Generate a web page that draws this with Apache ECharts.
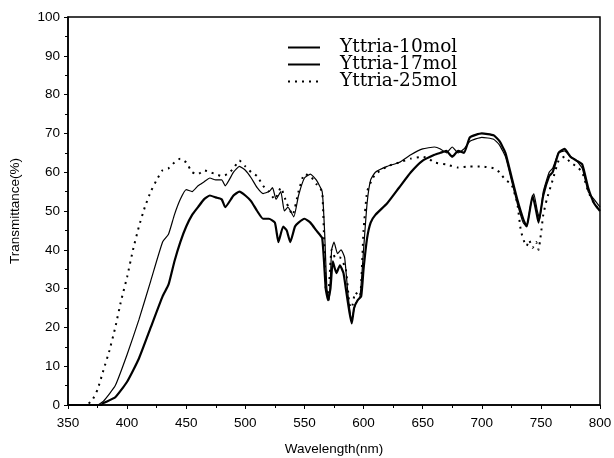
<!DOCTYPE html>
<html>
<head>
<meta charset="utf-8">
<script src="https://cdn.jsdelivr.net/npm/echarts@6/dist/echarts.min.js"></script>
<style>
  html, body { margin: 0; padding: 0; background: #fff; }
  #chart { width: 614px; height: 458px; }
</style>
</head>
<body>
<div id="chart"></div>
<script>
// wavelength (nm) / transmittance (%)
const wl10 = [350, 378, 380, 390, 400, 410, 420, 430, 435, 440, 445, 450, 455, 460, 465, 470, 475, 480, 483, 490, 495, 500, 505, 510, 515, 520, 525, 528, 532, 535, 538, 542, 545, 550, 555, 560, 565, 568, 570, 572, 574, 577, 580, 583, 585, 588, 590, 592, 595, 598, 600, 603, 606, 610, 620, 630, 640, 650, 660, 665, 670, 675, 680, 685, 690, 700, 710, 715, 720, 725, 730, 735, 738, 740, 743, 746, 748, 752, 757, 760, 765, 770, 775, 780, 785, 790, 795, 800];
const t10 = [0, 0, 0.5, 2, 6, 12, 20, 28, 31, 37, 42, 46, 49, 51, 53, 54, 53.5, 53, 51, 54, 55, 54, 52.5, 50, 48, 48, 47, 42, 46, 45, 42, 46, 47, 48, 47, 45, 43, 30, 27, 30, 37, 34, 36, 34, 30, 24, 21, 25, 27, 28, 35, 43, 47, 49, 52, 56, 60, 63, 64.5, 65, 65.5, 64, 65.5, 65, 69, 70, 69.5, 68, 65, 59, 53, 48, 46, 49, 54, 50, 47, 54, 59, 60, 65, 66, 64, 63, 62, 56, 52, 50];

const wl17 = [350, 375, 380, 390, 400, 410, 420, 430, 435, 440, 445, 450, 455, 460, 465, 470, 475, 480, 483, 490, 495, 500, 505, 510, 515, 520, 523, 526, 530, 533, 536, 541, 545, 550, 555, 560, 565, 567, 569, 571, 573, 575, 578, 581, 584, 587, 590, 593, 597, 600, 603, 606, 610, 620, 630, 640, 650, 660, 665, 670, 675, 680, 685, 690, 700, 710, 715, 720, 725, 730, 735, 738, 741, 744, 747, 749, 752, 757, 760, 765, 770, 775, 780, 785, 790, 795, 800];
const t17 = [0, 0, 1, 5, 13, 22, 32, 42, 44, 49, 53, 55.5, 55, 56.5, 57.5, 58.5, 58, 58, 56.5, 60, 61.5, 60.5, 58.5, 56, 54.5, 55, 56, 53, 55, 50, 51, 48.5, 54, 58.5, 59.5, 58, 55, 45, 30, 27, 40, 42, 39, 40, 38, 28, 22, 26, 28, 40, 52, 58, 60, 61.5, 62.5, 64.5, 66, 66.5, 66, 65, 66.5, 65, 66, 68, 69, 68.5, 67, 64, 58, 52, 47, 46, 51, 54.5, 50, 48, 55, 60, 61, 65, 65.5, 64, 63, 61, 55, 53, 51];

const wl25 = [350, 365, 370, 375, 380, 385, 390, 395, 400, 405, 410, 415, 420, 425, 430, 435, 440, 445, 450, 455, 460, 465, 470, 475, 480, 485, 490, 495, 500, 505, 510, 515, 520, 525, 530, 535, 540, 545, 550, 555, 560, 565, 568, 570, 573, 576, 580, 585, 588, 590, 593, 597, 600, 603, 607, 610, 620, 630, 640, 650, 655, 660, 670, 680, 690, 700, 710, 715, 720, 725, 730, 733, 736, 738, 740, 743, 746, 748, 750, 752, 755, 760, 765, 770, 775, 780, 785, 790, 795, 800];
const t25 = [0, 0, 1, 4, 9, 14, 20, 27, 33, 40, 46, 51, 55, 58, 60.5, 61, 62.5, 63.5, 62.5, 60, 59.5, 60.5, 60, 59.5, 59, 59.5, 61, 63, 61.5, 60, 59, 56.5, 55, 53, 56, 52, 49, 55, 59.5, 59, 57, 55, 30, 28, 40, 38, 38, 35, 26, 25, 29, 28, 45, 55, 58, 59.5, 61.5, 62.5, 63.5, 64, 63.5, 62.5, 62, 61.2, 61.5, 61.5, 61, 60, 58, 57, 52, 45, 42, 41, 42.5, 40.5, 42, 40, 44, 49, 53, 58, 63, 64, 62.5, 61.5, 60, 55, 52, 50];

const xTicks = { min: 350, max: 800, step: 50 };
const yTicks = { min: 0, max: 100, step: 10 };

function pairs(xs, ys) {
  return xs.map((x, i) => [x, ys[i]]);
}

const chart = echarts.init(document.getElementById('chart'));

const axisFont = { color: '#000', fontSize: 13.5, fontFamily: 'Arial, "Liberation Sans", sans-serif' };

chart.setOption({
  animation: false,
  backgroundColor: '#fff',
  grid: {
    left: 68, right: 14, top: 17, bottom: 53,
    outerBoundsMode: 'none',
    show: true, borderColor: '#000', borderWidth: 1.5
  },
  legend: {
    orient: 'vertical',
    left: 282, top: 33,
    padding: 5,
    itemWidth: 32, itemHeight: 14, itemGap: -2,
    itemStyle: { opacity: 0 },
    textStyle: {
      color: '#000', fontSize: 18.5, lineHeight: 17,
      fontFamily: '"DejaVu Serif", "Liberation Serif", serif',
      padding: [0, 0, 0, 15]
    },
    data: ['Yttria-10mol', 'Yttria-17mol', 'Yttria-25mol']
  },
  xAxis: {
    type: 'value',
    min: xTicks.min, max: xTicks.max, interval: xTicks.step,
    name: 'Wavelength(nm)', nameLocation: 'middle', nameGap: 37,
    nameTextStyle: axisFont,
    axisLine: { lineStyle: { color: '#000', width: 1.5 } },
    axisTick: { length: 4, lineStyle: { color: '#000' } },
    minorTick: { show: true, splitNumber: 2, length: 3, lineStyle: { color: '#000' } },
    axisLabel: Object.assign({ margin: 11 }, axisFont),
    splitLine: { show: false }
  },
  yAxis: {
    type: 'value',
    min: yTicks.min, max: yTicks.max, interval: yTicks.step,
    name: 'Transmittance(%)', nameLocation: 'middle', nameGap: 46, nameRotate: 90,
    nameTextStyle: axisFont,
    axisLine: { show: true, lineStyle: { color: '#000', width: 1.5 } },
    axisTick: { show: true, length: 4, lineStyle: { color: '#000' } },
    minorTick: { show: true, splitNumber: 2, length: 3, lineStyle: { color: '#000' } },
    axisLabel: Object.assign({ margin: 8 }, axisFont),
    splitLine: { show: false }
  },
  series: [
    {
      name: 'Yttria-10mol', type: 'line', symbol: 'none', smooth: 0.15,
      lineStyle: { color: '#000', width: 2.2 },
      itemStyle: { color: '#000' },
      data: pairs(wl10, t10)
    },
    {
      name: 'Yttria-17mol', type: 'line', symbol: 'none', smooth: 0.15,
      lineStyle: { color: '#000', width: 1.2 },
      itemStyle: { color: '#000' },
      data: pairs(wl17, t17)
    },
    {
      name: 'Yttria-25mol', type: 'line', symbol: 'none', smooth: 0.15,
      lineStyle: { color: '#000', width: 2, type: [2, 5] },
      itemStyle: { color: '#000' },
      data: pairs(wl25, t25)
    }
  ]
});
</script>
</body>
</html>
